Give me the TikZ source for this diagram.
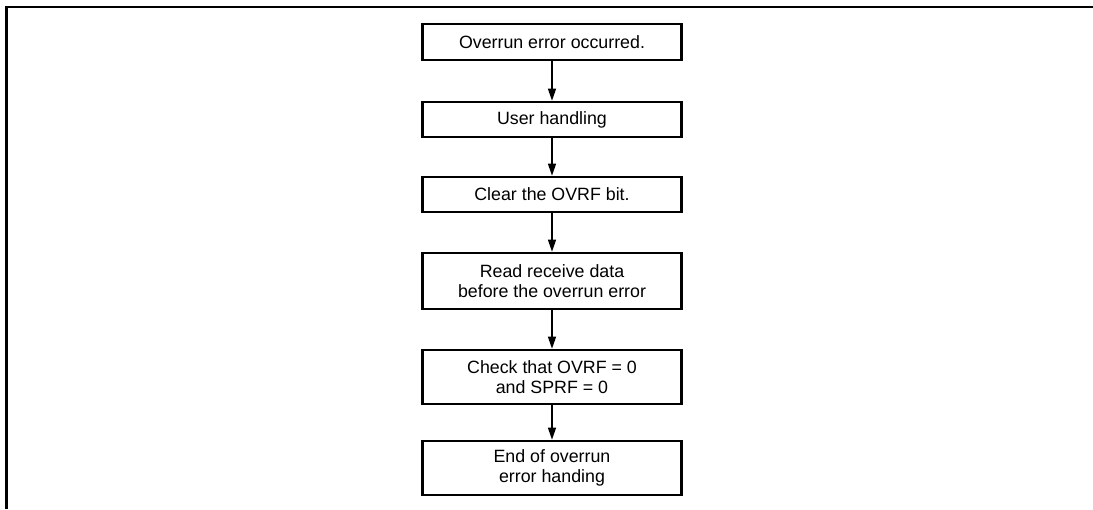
\documentclass[tikz,border=0pt]{standalone}
\usepackage{fontspec}
\setmainfont{Liberation Sans}
\usetikzlibrary{arrows.meta}
\begin{document}
\begin{tikzpicture}[x=1pt,y=1pt,
  stepbox/.style={draw,line width=2.6pt,minimum width=259pt,inner sep=0pt,align=center,
    font=\fontsize{17.8pt}{20.5pt}\selectfont},
  flow/.style={line width=1.3pt,-{Triangle[length=12pt,width=8pt]}}]
\useasboundingbox (0,0) rectangle (1093,-509);
\draw[line width=2.6pt] (6.5,-509) -- (6.5,-7) -- (1093,-7);
\node[stepbox,minimum height=36pt] (b1) at (552,-42) {Overrun error occurred.};
\node[stepbox,minimum height=35pt] (b2) at (552,-119.5) {User handling};
\node[stepbox,minimum height=35pt] (b3) at (552,-194.5) {Clear the OVRF bit.};
\node[stepbox,minimum height=56pt] (b4) at (552,-281) {Read receive data\\before the overrun error};
\node[stepbox,minimum height=54pt] (b5) at (552,-377) {Check that OVRF = 0\\and SPRF = 0};
\node[stepbox,minimum height=54pt] (b6) at (552,-468) {End of overrun\\error handing};
\draw[flow] (b1) -- (b2);
\draw[flow] (b2) -- (b3);
\draw[flow] (b3) -- (b4);
\draw[flow] (b4) -- (b5);
\draw[flow] (b5) -- (b6);
\end{tikzpicture}
\end{document}
